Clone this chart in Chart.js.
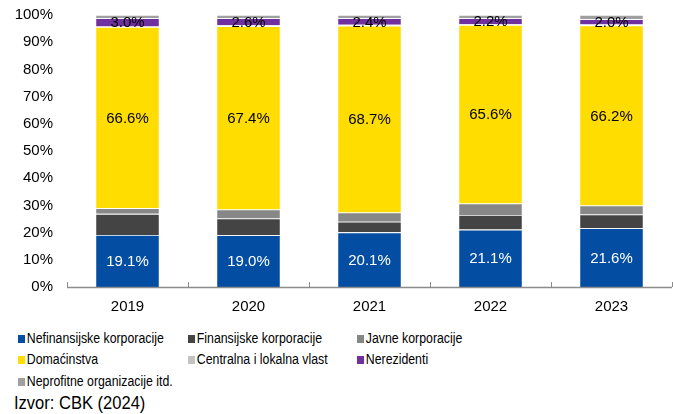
<!DOCTYPE html>
<html>
<head>
<meta charset="utf-8">
<script src="https://cdn.jsdelivr.net/npm/chart.js@4.4.1/dist/chart.umd.min.js"></script>
<style>
  html, body { margin: 0; padding: 0; background: #fff; }
  body { width: 673px; height: 414px; position: relative; overflow: hidden;
         font-family: "Liberation Sans", Arial, sans-serif; color: #000; }
  #wrap { position: absolute; left: 0; top: 0; width: 673px; height: 318px; }
  .legend { position: absolute; left: 0; top: 328px; width: 673px; font-size: 14px; }
  .item { position: absolute; white-space: nowrap; line-height: 20px;
          transform: scaleX(0.88); transform-origin: 0 50%; }
  .item i { display: inline-block; width: 8px; height: 8px; margin-right: 2px; vertical-align: 0px; }
  #source { position: absolute; left: 14px; top: 392px; font-size: 19px; line-height: 22px;
            transform: scaleX(0.87); transform-origin: 0 50%; white-space: nowrap; }
</style>
</head>
<body>
<div id="wrap"><canvas id="chart"></canvas></div>
<div class="legend" id="legend"></div>
<div id="source">Izvor: CBK (2024)</div>
<script>
// ---- data (shares in %) ----
const years = ['2019', '2020', '2021', '2022', '2023'];
const nefinansijske = [19.1, 19.0, 20.1, 21.1, 21.6];
const finansijske   = [7.8, 6.2, 3.9, 5.4, 5.1];
const javne         = [2.1, 3.3, 3.4, 4.2, 3.3];
const domacinstva   = [66.6, 67.4, 68.7, 65.6, 66.2];
const centralna     = [0.2, 0.3, 0.3, 0.3, 0.3];
const nerezidenti   = [3.0, 2.6, 2.4, 2.2, 2.0];
const neprofitne    = [1.2, 1.2, 1.2, 1.2, 1.5];
const yTicks = [0, 10, 20, 30, 40, 50, 60, 70, 80, 90, 100];

const FONT = '"Liberation Sans", Arial, sans-serif';

const series = [
  { label: 'Nefinansijske korporacije', data: nefinansijske, color: '#034ea2', text: '#fff' },
  { label: 'Finansijske korporacije', data: finansijske, color: '#444444' },
  { label: 'Javne korporacije', data: javne, color: '#878787' },
  { label: 'Domaćinstva', data: domacinstva, color: '#ffdd00', text: '#000' },
  { label: 'Centralna i lokalna vlast', data: centralna, color: '#c3c3c3' },
  { label: 'Nerezidenti', data: nerezidenti, color: '#7030a0', text: '#000' },
  { label: 'Neprofitne organizacije itd.', data: neprofitne, color: '#a0a0a0' }
];

// legend grid positions (3 columns, Excel style)
const legendCols = [18, 188, 357];
const legendRows = [0, 21, 43];
const legendEl = document.getElementById('legend');
series.forEach((s, i) => {
  const d = document.createElement('div');
  d.className = 'item';
  d.style.left = legendCols[i % 3] + 'px';
  d.style.top = legendRows[Math.floor(i / 3)] + 'px';
  d.innerHTML = `<i style="background:${s.color}"></i>${s.label}`;
  legendEl.appendChild(d);
});

// value labels inside selected segments
const segmentLabels = {
  id: 'segmentLabels',
  afterDatasetsDraw(chart) {
    const ctx = chart.ctx;
    ctx.save();
    ctx.font = '15px ' + FONT;
    ctx.textAlign = 'center';
    ctx.textBaseline = 'middle';
    chart.data.datasets.forEach((ds, di) => {
      if (!ds.labelColor) return;
      chart.getDatasetMeta(di).data.forEach((bar, i) => {
        ctx.fillStyle = ds.labelColor;
        ctx.fillText(ds.data[i].toFixed(1) + '%', bar.x, (bar.y + bar.base) / 2 + 1);
      });
    });
    ctx.restore();
  }
};

// small ticks pointing up from the category axis, at category boundaries
const axisTicks = {
  id: 'axisTicks',
  afterDraw(chart) {
    const x = chart.scales.x, ctx = chart.ctx;
    const bottom = chart.chartArea.bottom;
    const step = x.getPixelForValue(1) - x.getPixelForValue(0);
    ctx.save();
    ctx.strokeStyle = '#8c8c8c';
    ctx.lineWidth = 1;
    for (let i = 0; i <= years.length; i++) {
      const px = Math.round(x.getPixelForValue(0) - step / 2 + i * step) + 0.5;
      ctx.beginPath();
      ctx.moveTo(px, bottom);
      ctx.lineTo(px, bottom - 5);
      ctx.stroke();
    }
    ctx.beginPath();
    ctx.moveTo(chart.chartArea.left, bottom + 0.5);
    ctx.lineTo(chart.chartArea.right, bottom + 0.5);
    ctx.lineWidth = 1.5;
    ctx.stroke();
    ctx.restore();
  }
};

new Chart(document.getElementById('chart'), {
  type: 'bar',
  data: {
    labels: years,
    datasets: series.map(s => ({
      label: s.label,
      data: s.data,
      backgroundColor: s.color,
      borderColor: 'rgba(255,255,255,0.45)',
      borderWidth: 0.8,
      labelColor: s.text
    }))
  },
  options: {
    responsive: true,
    maintainAspectRatio: false,
    animation: false,
    layout: { padding: { top: 10, right: 1, left: 0, bottom: 0 } },
    datasets: { bar: { barPercentage: 0.53, categoryPercentage: 1 } },
    plugins: { legend: { display: false }, tooltip: { enabled: false } },
    scales: {
      x: {
        stacked: true,
        grid: { display: false },
        border: { display: false },
        ticks: { color: '#000', font: { family: FONT, size: 15 }, padding: 3 },
        afterFit: s => { s.height = 31; }
      },
      y: {
        stacked: true,
        min: 0,
        max: 100,
        afterBuildTicks: s => { s.ticks = yTicks.map(v => ({ value: v })); },
        grid: { display: false },
        border: { display: false },
        ticks: { color: '#000', font: { family: FONT, size: 15 }, padding: 6,
                 callback: v => v + '%' },
        afterFit: s => { s.width = 67; }
      }
    }
  },
  plugins: [segmentLabels, axisTicks]
});
</script>
</body>
</html>
